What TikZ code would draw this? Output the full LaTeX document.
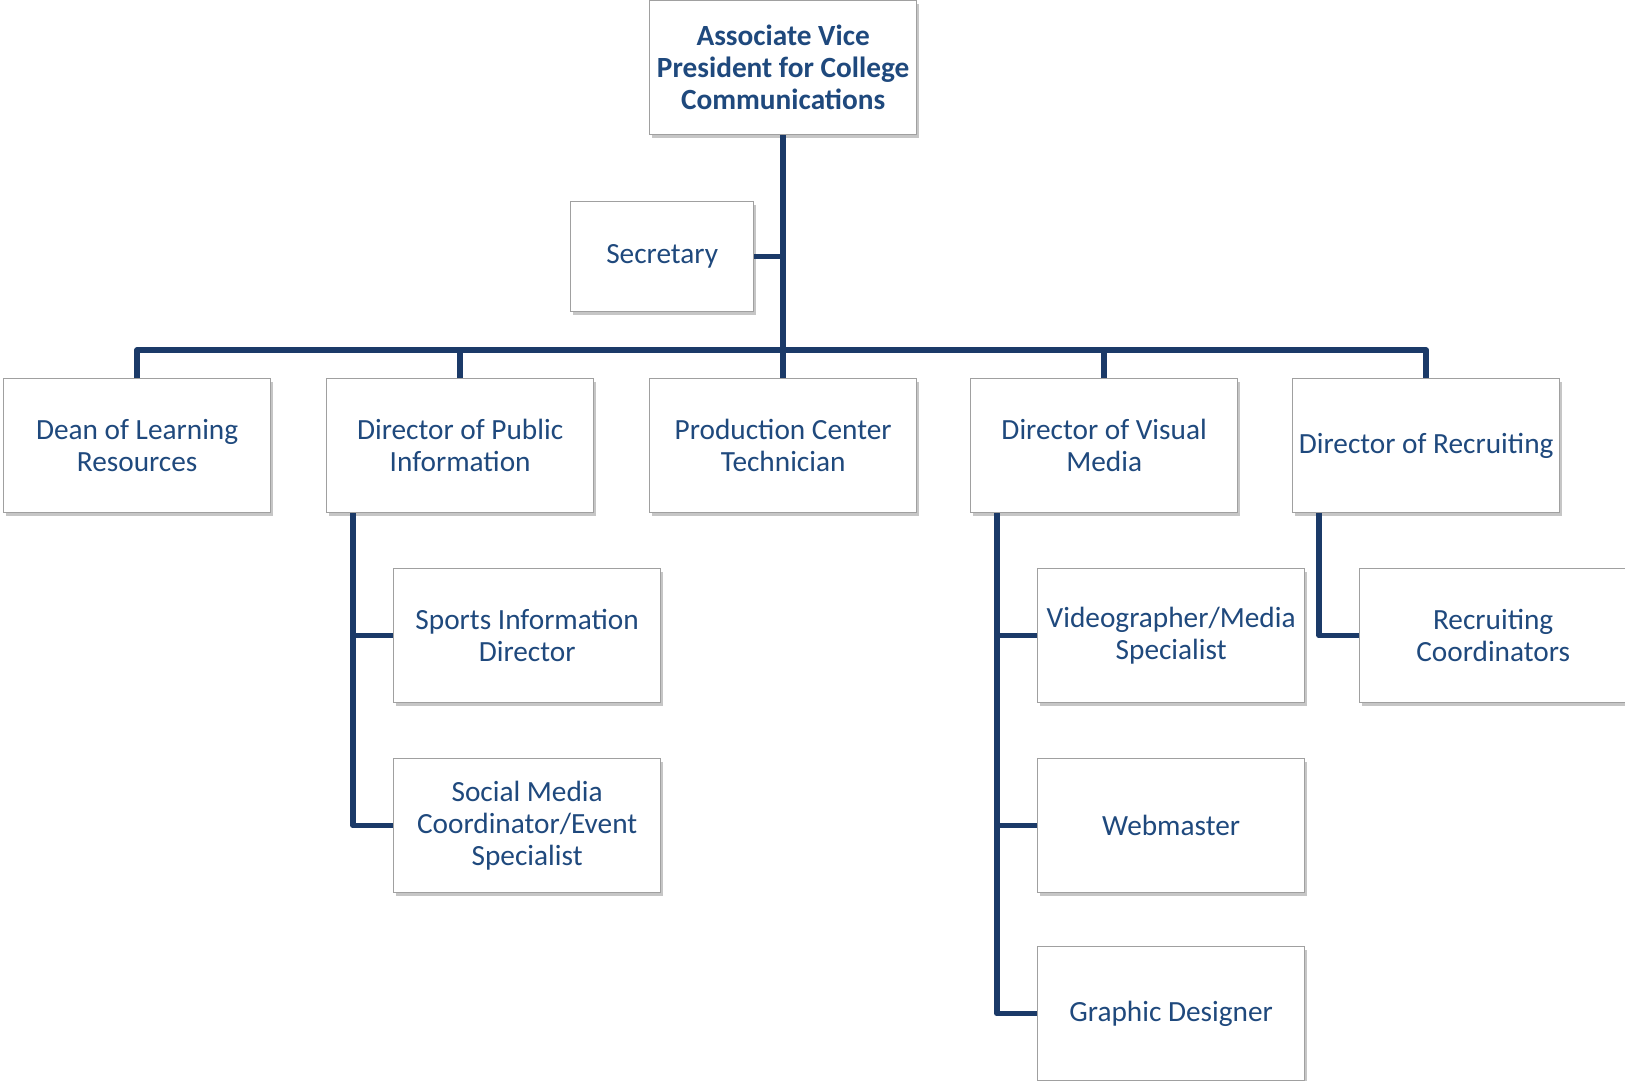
\documentclass[tikz,border=0pt]{standalone}
\usepackage{fontspec}
\setmainfont{Carlito}
\usetikzlibrary{shadows}
\definecolor{txtblue}{HTML}{1F497D}
\definecolor{linenavy}{HTML}{1B3A68}
\definecolor{boxgray}{HTML}{A0A0A0}
\tikzset{
  box/.style={draw=boxgray, line width=1.3pt, fill=white, inner sep=0pt, align=center,
    anchor=north west, text=txtblue, font=\fontsize{29.3}{32}\selectfont,
    drop shadow={shadow xshift=2.5pt, shadow yshift=-3pt, opacity=0.45, fill=gray}},
  wide/.style={box, minimum width=267pt, minimum height=134pt},
  conn/.style={draw=linenavy, line width=5.5pt, line join=round}
}
\begin{document}
\begin{tikzpicture}[x=1pt,y=-1pt]
\useasboundingbox (0,0) rectangle (1625,1081);
% nodes
\node[wide, font=\fontsize{29.3}{32}\selectfont\bfseries] (avp) at (649,0) {Associate Vice\\President for College\\Communications};
\node[box, minimum width=183pt, minimum height=110pt] (sec) at (570,201) {\raisebox{-2pt}{Secretary}};
\node[wide] (dean) at (3,378) {Dean of Learning\\Resources};
\node[wide] (pub) at (326,378) {Director of Public\\Information};
\node[wide] (prod) at (649,378) {Production Center\\Technician};
\node[wide] (vis) at (970,378) {Director of Visual\\Media};
\node[wide] (rec) at (1292,378) {Director of Recruiting};
\node[wide] (sports) at (393,568) {Sports Information\\Director};
\node[wide] (social) at (393,758) {Social Media\\Coordinator/Event\\Specialist};
\node[wide] (video) at (1037,568) {Videographer/Media\\Specialist};
\node[wide] (web) at (1037,758) {Webmaster};
\node[wide] (graph) at (1037,946) {Graphic Designer};
\node[wide] (rcoord) at (1359,568) {Recruiting\\Coordinators};
% coordinates
\coordinate (bus) at (781,350);
\coordinate (pubb) at ([xshift=27pt]pub.south west);
\coordinate (visb) at ([xshift=27pt]vis.south west);
\coordinate (recb) at ([xshift=27pt]rec.south west);
% connectors
\draw[conn] (avp.south) -- (prod.north);
\draw[conn] (sec.east) -- (sec.east -| avp.south);
\draw[conn] (dean.north) |- (bus) -| (rec.north);
\draw[conn] (pub.north) -- (pub.north |- bus);
\draw[conn] (vis.north) -- (vis.north |- bus);
\draw[conn] (pubb) |- (social.west);
\draw[conn] (pubb |- sports.west) -- (sports.west);
\draw[conn] (visb) |- (graph.west);
\draw[conn] (visb |- video.west) -- (video.west);
\draw[conn] (visb |- web.west) -- (web.west);
\draw[conn] (recb) |- (rcoord.west);
\end{tikzpicture}
\end{document}
